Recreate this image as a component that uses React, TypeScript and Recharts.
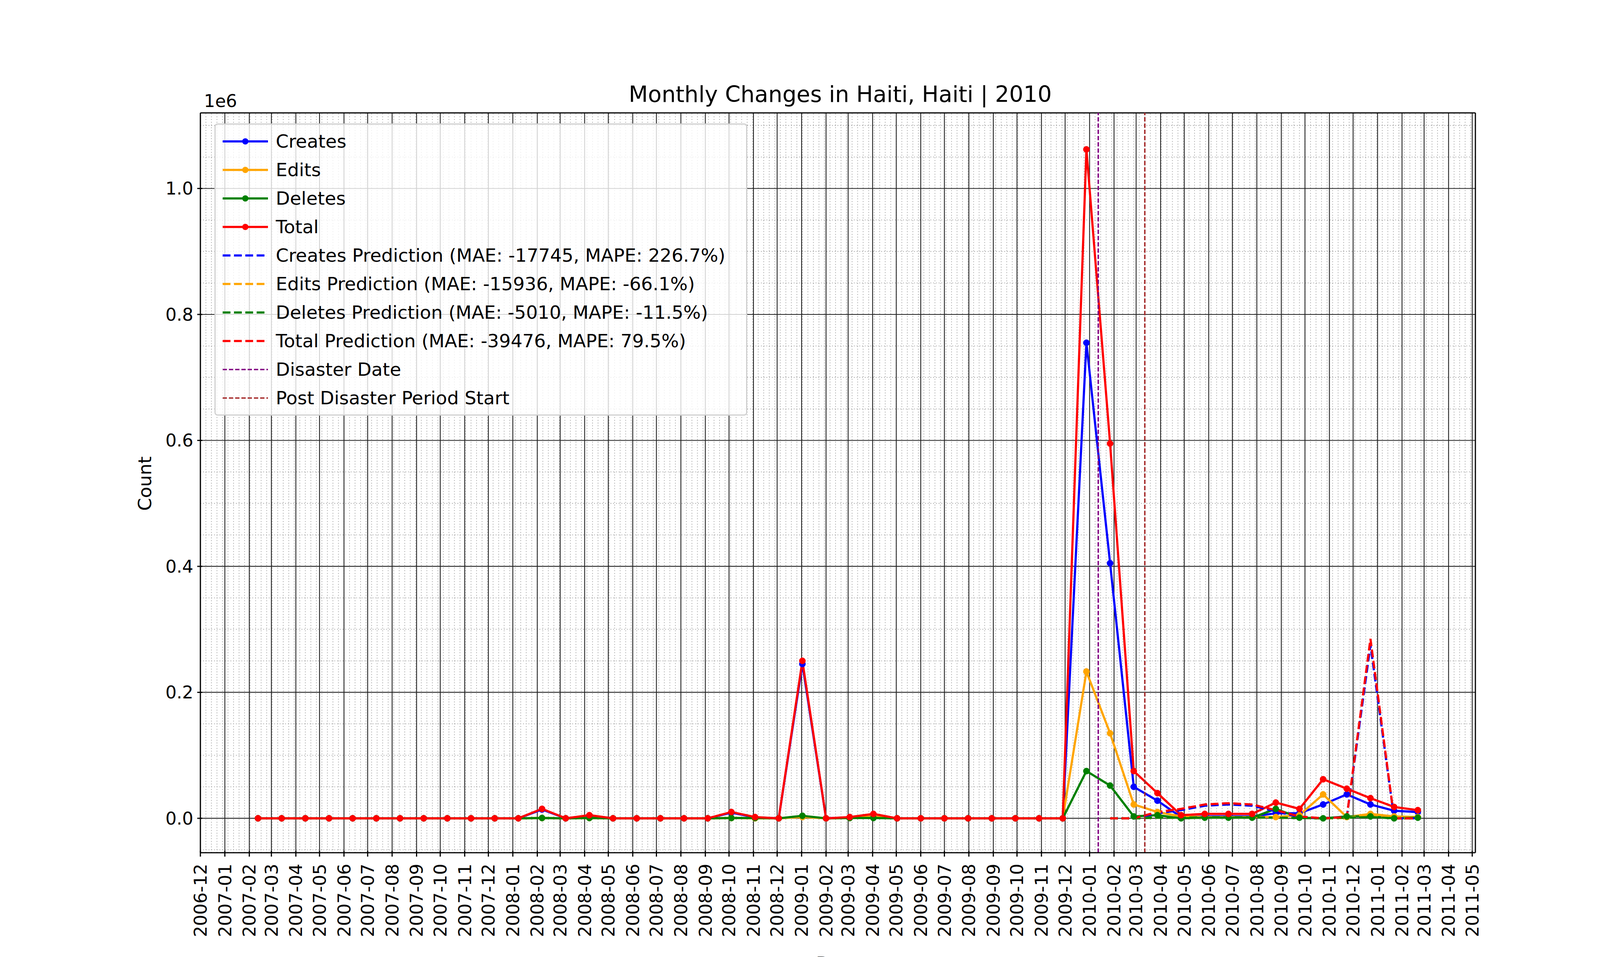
import React from "react";
import { LineChart, Line, XAxis, YAxis, ReferenceLine } from "recharts";

const DAY = 86400000;
const ORIGIN = Date.UTC(2006, 11, 1);
const toDay = (y: number, m: number, d: number) => (Date.UTC(y, m - 1, d) - ORIGIN) / DAY;

const monthLabels: string[] = [];
for (let y = 2006; y <= 2011; y++) for (let m = 1; m <= 12; m++) {
  if ((y === 2006 && m < 12) || (y === 2011 && m > 5)) continue;
  monthLabels.push(`${y}-${String(m).padStart(2, "0")}`);
}
const monthTicks = monthLabels.map((s) => toDay(+s.slice(0, 4), +s.slice(5, 7), 1));
const weekTicks: number[] = [];
for (let d = 0; d <= toDay(2011, 5, 5); d += 7) weekTicks.push(d);
const yTicks = [0, 200000, 400000, 600000, 800000, 1000000];
const yMinor = [-50000, 50000, 100000, 150000, 250000, 300000, 350000, 450000, 500000, 550000, 650000, 700000, 750000, 850000, 900000, 950000, 1050000, 1100000];

const startDay = toDay(2007, 2, 12);
const stepDays = 30;

const creates = [0,0,0,0,0,0,0,0,0,0,0,0,14000,0,4000,0,0,0,0,0,9000,1500,0,245000,0,1500,4000,0,0,0,0,0,0,0,0,755000,405000,50000,28000,2000,3000,3000,3000,8000,8000,22000,38000,22000,12000,10000];
const edits = [0,0,0,0,0,0,0,0,0,0,0,0,500,0,500,0,0,0,0,0,500,0,0,2000,0,500,3000,0,0,0,0,0,0,0,0,233000,135000,22000,10000,3000,2000,2000,2000,2000,5000,38000,2000,7000,3000,2000];
const deletes = [0,0,0,0,0,0,0,0,0,0,0,0,500,0,500,0,0,0,0,0,500,500,0,4000,0,500,500,0,0,0,0,0,0,0,0,75000,52000,3000,5000,0,1000,1000,1000,15000,1000,0,3000,3000,0,1000];
const total = [0,0,0,0,0,0,0,0,0,0,0,0,15000,0,5000,0,0,0,0,0,10000,2000,0,250000,0,2000,7000,0,0,0,0,0,0,0,0,1062000,595000,75000,40000,5000,7000,7000,7000,25000,15000,62000,47000,32000,18000,13000];

const predStart = 36;
const createsPred = [0,0,8000,13000,20000,22000,20000,11000,2000,0,2000,275000,0,0];
const editsPred = [0,0,1000,1000,1500,1500,1500,1000,500,0,500,6000,0,0];
const deletesPred = [0,0,1000,1000,1500,1500,1500,1000,500,0,1000,2000,0,0];
const totalPred = [0,0,10000,15000,22000,24000,22000,13000,3000,0,2000,285000,0,0];

const disasterDay = toDay(2010, 1, 12);
const postDay = toDay(2010, 3, 12);

const data = total.map((_, i) => ({
  x: startDay + stepDays * i,
  creates: creates[i], edits: edits[i], deletes: deletes[i], total: total[i],
  createsPred: i >= predStart ? createsPred[i - predStart] : null,
  editsPred: i >= predStart ? editsPred[i - predStart] : null,
  deletesPred: i >= predStart ? deletesPred[i - predStart] : null,
  totalPred: i >= predStart ? totalPred[i - predStart] : null,
}));

const legendItems = [
  { label: "Creates", color: "blue", kind: "solid" },
  { label: "Edits", color: "orange", kind: "solid" },
  { label: "Deletes", color: "green", kind: "solid" },
  { label: "Total", color: "red", kind: "solid" },
  { label: "Creates Prediction (MAE: -17745, MAPE: 226.7%)", color: "blue", kind: "dash" },
  { label: "Edits Prediction (MAE: -15936, MAPE: -66.1%)", color: "orange", kind: "dash" },
  { label: "Deletes Prediction (MAE: -5010, MAPE: -11.5%)", color: "green", kind: "dash" },
  { label: "Total Prediction (MAE: -39476, MAPE: 79.5%)", color: "red", kind: "dash" },
  { label: "Disaster Date", color: "purple", kind: "thin" },
  { label: "Post Disaster Period Start", color: "brown", kind: "thin" },
];

const FONT = "DejaVu Sans";

const LegendBox = () => (
  <div style={{ position: "absolute", left: 549, top: 316, width: 1364, boxSizing: "border-box", border: "3px solid #d0d0d0", borderRadius: 8, background: "rgba(255,255,255,0.8)", padding: "6px 10px 6px 16px", fontFamily: FONT, fontSize: 47 }}>
    {legendItems.map((it) => (
      <div key={it.label} style={{ display: "flex", alignItems: "center", height: 73 }}>
        <svg width={120} height={30} style={{ marginRight: 18 }}>
          <line x1={2} y1={15} x2={118} y2={15} stroke={it.color}
            strokeWidth={it.kind === "thin" ? 3.7 : 5.6}
            strokeDasharray={it.kind === "dash" ? "20 9" : it.kind === "thin" ? "11 5" : undefined} />
          {it.kind === "solid" && <circle cx={60} cy={15} r={8} fill={it.color} />}
        </svg>
        <span>{it.label}</span>
      </div>
    ))}
  </div>
);

const XTick = (props: any) => {
  const { x, y, index } = props;
  return (
    <g>
      <line x1={x} y1={y - 13} x2={x} y2={y + 2} stroke="#000" strokeWidth={3} />
      <text x={x + 16} y={y + 20} transform={`rotate(-90 ${x + 16} ${y + 20})`} textAnchor="end" fontFamily={FONT} fontSize={45} fill="#000">
        {monthLabels[index] ?? ""}
      </text>
    </g>
  );
};

const YTick = (props: any) => {
  const { x, y, payload } = props;
  return (
    <g>
      <line x1={x} y1={y} x2={x + 13} y2={y} stroke="#000" strokeWidth={3} />
      <text x={x - 10} y={y + 16} textAnchor="end" fontFamily={FONT} fontSize={45} fill="#000">
        {(payload.value / 1e6).toFixed(1)}
      </text>
    </g>
  );
};

export default function App() {
  const W = 4200, H = 2450;
  const solid = (key: string, color: string) => (
    <Line key={key} dataKey={key} stroke={color} strokeWidth={5.6} dot={{ r: 8, fill: color, stroke: color, strokeWidth: 1 }} isAnimationActive={false} />
  );
  const dash = (key: string, color: string) => (
    <Line key={key} dataKey={key} stroke={color} strokeWidth={5.6} strokeDasharray="20 9" dot={false} isAnimationActive={false} />
  );
  return (
    <div style={{ position: "absolute", left: 0, top: 0, width: W, height: H, background: "#fff" }}>
      <LineChart width={W} height={H} data={data} margin={{ top: 289, right: 423, bottom: 7, left: 313 }}>
        {weekTicks.map((d) => (
          <ReferenceLine key={"w" + d} x={d} stroke="#9a9a9a" strokeWidth={1.8} strokeDasharray="2 5" />
        ))}
        {yMinor.map((v) => (
          <ReferenceLine key={"ym" + v} y={v} stroke="#9a9a9a" strokeWidth={1.8} strokeDasharray="2 5" />
        ))}
        {monthTicks.map((d) => (
          <ReferenceLine key={"m" + d} x={d} stroke="#222" strokeWidth={2.2} />
        ))}
        {yTicks.map((v) => (
          <ReferenceLine key={"y" + v} y={v} stroke="#222" strokeWidth={2.2} />
        ))}
        <XAxis dataKey="x" type="number" domain={[0, toDay(2011, 5, 5)]} ticks={monthTicks} interval={0}
          height={260} tick={<XTick />} tickLine={false} axisLine={{ stroke: "#000", strokeWidth: 3 }}
          label={{ value: "Date", position: "insideBottom", offset: -40, fontFamily: FONT, fontSize: 47, fill: "#000" }} />
        <YAxis type="number" domain={[-54600, 1120000]} ticks={yTicks} interval={0} width={200}
          tick={<YTick />} tickLine={false} axisLine={{ stroke: "#000", strokeWidth: 3 }} />
        <ReferenceLine x={toDay(2011, 5, 5)} stroke="#000" strokeWidth={3} />
        <ReferenceLine y={1120000} stroke="#000" strokeWidth={3} />
        {solid("creates", "blue")}
        {solid("edits", "orange")}
        {solid("deletes", "green")}
        {solid("total", "red")}
        {dash("createsPred", "blue")}
        {dash("editsPred", "orange")}
        {dash("deletesPred", "green")}
        {dash("totalPred", "red")}
        <ReferenceLine x={disasterDay} stroke="purple" strokeWidth={3.7} strokeDasharray="11 5" />
        <ReferenceLine x={postDay} stroke="brown" strokeWidth={3.7} strokeDasharray="11 5" />
      </LineChart>
      <LegendBox />
      <div style={{ position: "absolute", left: 0, top: 208, width: 4302, textAlign: "center", fontFamily: FONT, fontSize: 57 }}>
        Monthly Changes in Haiti, Haiti | 2010
      </div>
      <div style={{ position: "absolute", left: 522, top: 232, fontFamily: FONT, fontSize: 45 }}>1e6</div>
      <div style={{ position: "absolute", left: 370, top: 1238, transform: "translate(-50%,-50%) rotate(-90deg)", fontFamily: FONT, fontSize: 47 }}>Count</div>
    </div>
  );
}
